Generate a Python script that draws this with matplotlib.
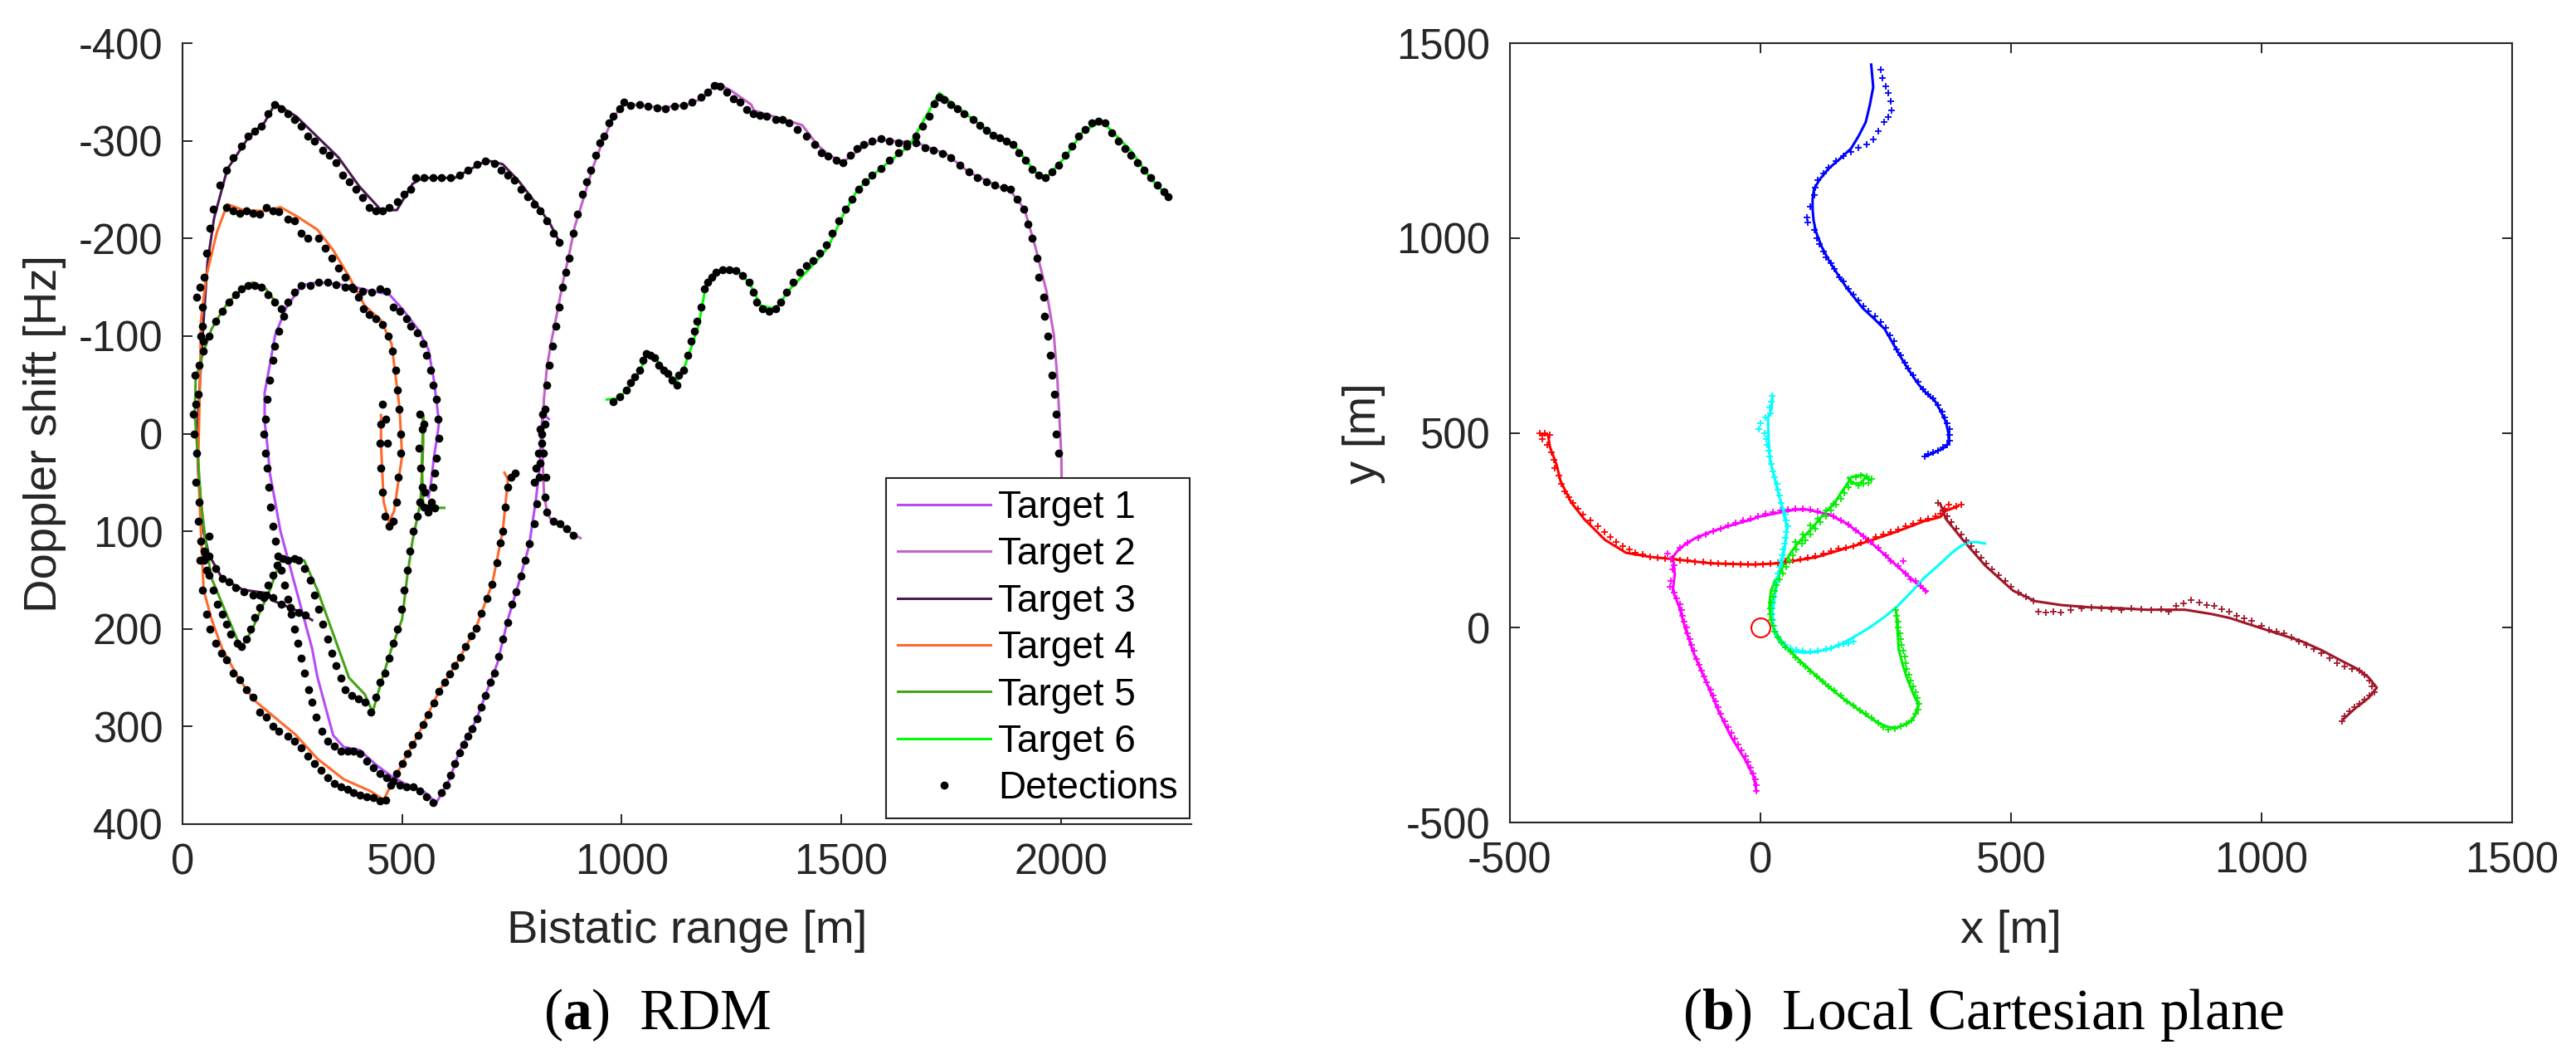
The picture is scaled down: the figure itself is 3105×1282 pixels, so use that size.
import matplotlib
matplotlib.use('Agg')
import matplotlib.pyplot as plt

plt.rcParams['font.family'] = ['Liberation Sans', 'DejaVu Sans']
plt.rcParams['axes.unicode_minus'] = False
plt.rcParams['mathtext.fontset'] = 'custom'
plt.rcParams['mathtext.rm'] = 'Liberation Serif'
plt.rcParams['mathtext.bf'] = 'Liberation Serif:bold'

# ---------------- Left panel data: (bistatic range [m], Doppler [Hz]) ----------------
target_names = ['Target 1', 'Target 2', 'Target 3', 'Target 4', 'Target 5', 'Target 6']
target_colors = ['#b54cf5', '#c262c8', '#4a1a4e', '#ff6a2a', '#45a315', '#00ff00']

t1 = [(560, 65), (566, 50), (572, 26), (582, -4), (584, -12), (572, -56), (560, -86), (536, -107),
      (500, -128), (470, -143), (427, -146), (403, -149), (355, -153), (307, -155), (271, -152),
      (235, -128), (211, -101), (199, -71), (187, -42), (187, -12), (193, 11), (199, 41), (211, 70),
      (223, 100), (241, 130), (259, 160), (277, 190), (295, 220), (307, 249), (325, 279), (343, 309),
      (367, 321), (403, 324), (440, 339), (476, 351), (512, 360), (548, 366), (578, 378), (608, 354),
      (632, 324), (668, 294), (693, 264), (717, 235), (741, 190), (765, 154), (789, 115), (804, 70),
      (813, 35), (817, -4), (820, -20), (834, -15)]
t2 = [(906, 107), (886, 102), (860, 94), (840, 89), (830, 81), (823, 61), (820, 29), (820, -4),
      (823, -36), (830, -69), (840, -95), (853, -124), (867, -157), (880, -183), (893, -212),
      (909, -235), (933, -271), (958, -301), (982, -325), (1006, -338), (1030, -337), (1090, -334),
      (1150, -337), (1186, -344), (1216, -359), (1247, -352), (1295, -337), (1301, -331),
      (1368, -322), (1411, -316), (1445, -296), (1470, -286), (1503, -278), (1554, -295),
      (1588, -301), (1672, -298), (1740, -286), (1790, -268), (1858, -253), (1883, -250),
      (1917, -230), (1942, -191), (1967, -146), (1984, -101), (1992, -56), (2001, 23), (2002, 60)]
t3 = [(295, 191), (259, 181), (211, 172), (187, 163), (138, 160), (90, 148), (60, 124), (48, 100),
      (36, 41), (33, 3), (40, -56), (48, -116), (57, -176), (72, -221), (102, -271), (151, -304),
      (187, -319), (211, -338), (259, -325), (307, -304), (355, -283), (403, -253), (452, -229),
      (488, -229), (524, -256), (548, -262), (620, -262), (656, -271), (693, -280), (729, -276),
      (765, -259), (801, -238), (837, -215), (861, -194)]
t4 = [(452, -19), (452, 11), (458, 70), (470, 91), (482, 79), (494, 41), (500, 23), (494, -27),
      (476, -92), (452, -116), (415, -131), (379, -161), (343, -188), (307, -209), (259, -223),
      (223, -232), (187, -228), (139, -229), (102, -235), (78, -206), (54, -161), (42, -116),
      (40, -56), (36, 23), (36, 41), (42, 100), (48, 160), (66, 190), (90, 220), (127, 250),
      (163, 273), (211, 291), (259, 309), (307, 333), (367, 354), (427, 366), (458, 375),
      (488, 348), (536, 309), (584, 264), (632, 229), (668, 199), (705, 154), (729, 100),
      (741, 47), (733, 40)]
t5 = [(215, -133), (190, -148), (160, -155), (140, -150), (103, -134), (80, -118), (66, -107),
      (45, -80), (30, -56), (28, -19), (36, 30), (42, 70), (54, 115), (66, 148), (102, 187),
      (133, 220), (157, 202), (175, 184), (199, 160), (223, 130), (259, 127), (277, 130),
      (307, 160), (331, 190), (355, 220), (379, 250), (415, 267), (433, 285), (452, 255),
      (476, 220), (500, 190), (512, 145), (524, 109), (542, 70), (548, 11), (548, -19),
      (545, 30), (548, 76), (596, 76)]
t6 = [(966, -35), (993, -36), (1019, -49), (1039, -62), (1059, -82), (1079, -76), (1105, -62),
      (1125, -54), (1138, -62), (1158, -88), (1175, -111), (1191, -150), (1211, -163),
      (1238, -168), (1264, -167), (1291, -154), (1317, -131), (1350, -128), (1385, -149),
      (1436, -173), (1470, -191), (1503, -223), (1537, -250), (1588, -271), (1655, -295),
      (1723, -349), (1773, -331), (1841, -308), (1891, -297), (1942, -268), (1967, -262),
      (2009, -283), (2051, -310), (2094, -320), (2161, -289), (2203, -262), (2242, -244)]
targets_rdm = [t1, t2, t3, t4, t5, t6]

detections_rdm = [
    # target 3 upper arc
    (35, -40), (38, -70), (42, -100), (45, -130), (50, -160), (55, -185), (62, -210), (70, -230),
    (85, -255), (100, -270), (115, -283), (135, -295), (150, -305), (165, -310), (180, -315),
    (195, -328), (210, -337), (225, -333), (240, -328), (255, -322), (270, -315), (285, -305),
    (300, -300), (320, -290), (335, -285), (350, -278), (365, -265), (380, -258), (395, -250),
    (410, -242), (425, -232), (440, -228), (455, -228), (470, -232), (490, -238), (505, -245),
    (520, -250), (530, -262), (550, -262), (570, -262), (590, -262), (610, -262), (630, -265),
    (650, -270), (670, -276), (690, -279), (710, -277), (725, -270), (740, -265), (755, -260),
    (770, -250), (785, -243), (800, -235), (815, -228), (830, -218), (845, -205), (858, -196),
    # target 3 lower
    (60, 125), (75, 138), (90, 148), (105, 152), (120, 158), (140, 162), (160, 165), (175, 165),
    (190, 165), (205, 168), (225, 175), (245, 178), (265, 183), (280, 186),
    # left edge
    (28, -60), (30, -30), (27, 0), (32, 20), (30, 50), (38, 70), (35, 90), (42, 110), (50, 120),
    (55, 140), (25, -20), (40, -150), (33, -140), (45, -110), (48, -95), (52, 125), (60, 105),
    # target 4
    (100, -232), (115, -228), (130, -226), (145, -228), (160, -226), (175, -225), (190, -232),
    (205, -228), (220, -227), (240, -220), (255, -218), (270, -205), (285, -200), (310, -200),
    (325, -190), (340, -180), (355, -170), (370, -160), (385, -150), (400, -140), (412, -128),
    (425, -122), (440, -118), (455, -112), (468, -100), (478, -85), (485, -65), (490, -45),
    (493, -25), (496, 0), (496, 20), (492, 45), (487, 70), (480, 90), (470, 95), (460, 85),
    (455, 60), (452, 35), (450, 10), (452, -10), (455, -30), (462, -15), (466, 10),
    (40, 130), (45, 160), (55, 185), (62, 200), (75, 215), (88, 225), (100, 232), (115, 245),
    (130, 252), (145, 262), (160, 270), (175, 285), (190, 290), (205, 300), (220, 305),
    (240, 310), (255, 315), (270, 322), (285, 330), (300, 338), (315, 345), (330, 352),
    (345, 358), (360, 362), (375, 364), (390, 368), (405, 370), (420, 372), (435, 373),
    (450, 376), (462, 375), (475, 360), (488, 348), (500, 338), (512, 328), (524, 318),
    (536, 309), (548, 298), (560, 288), (572, 276), (584, 264), (596, 255), (608, 246),
    (620, 238), (632, 229), (645, 218), (658, 207), (668, 199), (680, 184), (693, 169),
    (705, 154), (715, 132), (723, 112), (729, 100), (735, 75), (741, 55), (748, 45), (758, 40),
    # target 1
    (240, -135), (255, -145), (270, -152), (290, -152), (310, -155), (330, -155), (350, -153),
    (370, -150), (390, -148), (410, -146), (430, -145), (450, -148), (465, -146), (480, -130),
    (495, -125), (510, -118), (520, -110), (535, -103), (548, -92), (555, -80), (565, -65),
    (570, -50), (578, -35), (582, -15), (583, 5), (578, 25), (575, 40), (570, 55), (567, 70),
    (560, 80), (550, 75),
    (230, -120), (220, -105), (210, -90), (205, -75), (198, -55), (192, -35), (188, -15),
    (185, 0), (188, 20), (192, 35), (196, 55), (200, 75), (205, 95), (212, 110), (218, 125),
    (225, 140), (232, 155), (240, 170), (248, 185), (255, 200), (262, 215), (270, 230),
    (278, 245), (287, 262), (295, 275), (305, 290), (318, 305), (330, 315), (345, 320),
    (360, 325), (375, 325), (390, 325), (405, 328), (420, 335), (435, 342), (450, 348),
    (465, 352), (480, 356), (495, 360), (510, 362), (525, 362), (540, 366), (555, 372),
    (570, 378), (590, 368), (600, 360), (610, 350), (620, 338), (630, 327), (640, 318),
    (650, 310), (660, 302), (670, 292), (680, 280), (690, 268), (700, 255), (710, 245),
    (720, 228), (730, 210), (740, 193), (750, 175), (760, 162), (770, 146), (780, 130),
    (790, 113), (800, 92), (806, 72), (812, 45), (815, 30), (818, 10), (815, -5), (820, -20),
    (825, -10), (810, 20), (805, 35), (800, 50),
    # target 2
    (830, 80), (845, 90), (860, 92), (875, 97), (890, 104), (825, 65), (828, 45), (822, 20),
    (818, 0), (825, -25), (830, -50), (835, -70), (842, -90), (850, -110), (858, -130),
    (865, -150), (872, -165), (880, -180), (890, -205), (900, -225), (910, -245), (920, -258),
    (930, -270), (940, -285), (950, -298), (960, -305), (970, -318), (980, -325), (995, -333),
    (1005, -340), (1020, -336), (1040, -337), (1060, -335), (1080, -334), (1100, -333),
    (1120, -335), (1140, -336), (1160, -340), (1180, -345), (1195, -350), (1210, -357),
    (1225, -356), (1240, -350), (1255, -343), (1270, -340), (1285, -332), (1300, -328),
    (1315, -326), (1330, -325), (1350, -322), (1365, -322), (1380, -318), (1400, -312),
    (1420, -305), (1440, -296), (1455, -288), (1470, -284), (1488, -280), (1503, -278),
    (1520, -285), (1535, -292), (1550, -296), (1570, -300), (1590, -302), (1610, -300),
    (1630, -298), (1650, -297), (1670, -298), (1690, -293), (1710, -290), (1730, -287),
    (1750, -283), (1770, -275), (1790, -268), (1810, -262), (1830, -258), (1850, -255),
    (1870, -252), (1885, -250), (1900, -240), (1915, -230), (1925, -215), (1935, -200),
    (1945, -180), (1950, -160), (1960, -140), (1963, -120), (1970, -100), (1975, -80),
    (1980, -60), (1985, -40), (1990, -20), (1990, 0), (1995, 20),
    # target 5
    (75, -115), (90, -125), (105, -135), (120, -142), (135, -148), (150, -152), (165, -152),
    (180, -150), (195, -142), (210, -135), (225, -128), (60, -100), (48, -85),
    (50, 130), (60, 145), (70, 160), (80, 175), (90, 185), (100, 195), (110, 205), (125, 215),
    (135, 218), (145, 210), (155, 200), (165, 188), (175, 178), (185, 168), (195, 155),
    (205, 145), (215, 135), (228, 128), (240, 130), (255, 128), (265, 130), (278, 138),
    (290, 150), (300, 165), (310, 180), (320, 195), (330, 210), (340, 225), (350, 238),
    (360, 250), (370, 262), (385, 268), (400, 272), (415, 275), (428, 285), (440, 270),
    (450, 255), (460, 245), (470, 230), (480, 215), (490, 200), (498, 180), (505, 160),
    (512, 140), (518, 120), (525, 100), (535, 85), (540, 70), (545, 55), (542, 35), (538, 15),
    (545, -5), (540, -20), (550, -10), (552, 60), (560, 76), (575, 76),
    # target 6
    (980, -33), (995, -38), (1010, -45), (1020, -52), (1030, -58), (1040, -65), (1048, -75),
    (1055, -82), (1065, -80), (1075, -78), (1085, -70), (1095, -65), (1105, -62), (1115, -55),
    (1125, -50), (1130, -60), (1140, -65), (1150, -80), (1158, -95), (1165, -105), (1172, -115),
    (1180, -130), (1188, -148), (1195, -155), (1205, -160), (1215, -165), (1230, -168),
    (1245, -168), (1260, -167), (1275, -162), (1290, -155), (1300, -145), (1308, -135),
    (1320, -128), (1335, -125), (1350, -128), (1362, -135), (1375, -145), (1390, -155),
    (1405, -165), (1420, -172), (1435, -177), (1450, -185), (1465, -193), (1480, -205),
    (1495, -218), (1510, -230), (1525, -240), (1540, -250), (1555, -258), (1570, -265),
    (1590, -272), (1610, -280), (1630, -288), (1650, -295), (1670, -305), (1685, -315),
    (1700, -325), (1712, -338), (1722, -345), (1735, -342), (1750, -337), (1765, -333),
    (1780, -328), (1800, -322), (1815, -316), (1830, -311), (1845, -306), (1860, -303),
    (1875, -300), (1890, -296), (1905, -288), (1920, -280), (1935, -271), (1950, -265),
    (1965, -262), (1980, -268), (1995, -275), (2010, -285), (2025, -295), (2040, -305),
    (2055, -312), (2070, -318), (2085, -320), (2100, -318), (2115, -308), (2130, -300),
    (2145, -292), (2160, -285), (2175, -278), (2190, -270), (2205, -262), (2220, -255),
    (2235, -248), (2245, -243)]

rdm_xticks = [0, 500, 1000, 1500, 2000]
rdm_yticks = [-400, -300, -200, -100, 0, 100, 200, 300, 400]

# ---------------- Right panel data: (x [m], y [m]) ----------------
track_colors = ['#0000ff', '#ff0000', '#a0182a', '#ff00ff', '#00ffff', '#00f000']

blue_line = [(221, 1445), (225, 1387), (218, 1340), (210, 1297), (196, 1262), (181, 1230),
             (160, 1205), (136, 1178), (118, 1150), (107, 1126), (104, 1100), (104, 1074),
             (106, 1045), (111, 1015), (122, 978), (138, 939), (155, 905), (171, 874), (188, 846),
             (204, 820), (225, 795), (248, 766), (265, 728), (282, 690), (298, 657), (315, 625),
             (330, 603), (348, 582), (360, 555), (370, 528), (375, 500), (376, 474), (368, 463),
             (359, 457), (345, 448), (332, 441)]
blue_det = [(240, 1431), (243, 1410), (250, 1390), (255, 1372), (260, 1350), (262, 1327),
            (255, 1310), (247, 1297), (235, 1275), (225, 1253), (212, 1240), (195, 1232),
            (180, 1222), (165, 1210), (150, 1198), (135, 1180), (125, 1165), (115, 1148),
            (110, 1130), (108, 1110), (100, 1080), (92, 1052), (95, 1040), (108, 1020),
            (112, 1000), (118, 985), (125, 965), (130, 950), (140, 935), (148, 920), (158, 900),
            (165, 888), (175, 870), (185, 855), (195, 840), (205, 825), (215, 812), (228, 800),
            (240, 785), (250, 770), (258, 750), (266, 735), (272, 715), (280, 700), (288, 680),
            (295, 665), (305, 648), (315, 630), (325, 612), (335, 600), (345, 588), (355, 572),
            (362, 555), (368, 540), (372, 525), (378, 510), (378, 495), (377, 480), (372, 470),
            (365, 462), (355, 455), (345, 450), (335, 445), (328, 440)]
red_line = [(-437, 495), (-424, 495), (-420, 463), (-407, 419), (-399, 376), (-378, 322),
            (-352, 279), (-310, 225), (-268, 192), (-217, 181), (-175, 176), (-99, 165),
            (-14, 162), (36, 165), (112, 181), (197, 214), (271, 246), (326, 273), (359, 284),
            (370, 300), (393, 311)]
red_det = [(-440, 500), (-430, 498), (-420, 495), (-435, 485), (-425, 470), (-418, 450),
           (-412, 430), (-410, 410), (-402, 390), (-398, 370), (-390, 350), (-382, 335),
           (-375, 320), (-365, 305), (-355, 290), (-340, 275), (-325, 260), (-312, 245),
           (-300, 232), (-288, 220), (-275, 210), (-262, 200), (-250, 192), (-235, 187),
           (-220, 182), (-205, 180), (-190, 178), (-175, 178), (-160, 172), (-145, 172),
           (-130, 168), (-115, 168), (-100, 166), (-85, 165), (-70, 164), (-55, 163), (-40, 163),
           (-25, 162), (-10, 162), (5, 163), (20, 164), (35, 167), (50, 170), (65, 172), (80, 176),
           (95, 180), (110, 184), (125, 190), (140, 196), (155, 202), (170, 205), (185, 210),
           (200, 218), (215, 225), (230, 232), (245, 240), (260, 246), (275, 252), (290, 260),
           (305, 266), (320, 275), (335, 280), (350, 285), (360, 292), (368, 305), (375, 315),
           (390, 312), (400, 315)]
darkred_line = [(359, 317), (370, 279), (404, 225), (448, 160), (504, 95), (548, 68), (600, 58),
                (659, 52), (715, 50), (770, 46), (847, 46), (900, 35), (936, 25), (1003, -3),
                (1080, -35), (1120, -58), (1158, -84), (1190, -105), (1213, -127), (1230, -154),
                (1213, -181), (1186, -208), (1163, -235)]
darkred_det = [(355, 320), (365, 300), (372, 285), (380, 270), (390, 255), (400, 240), (410, 225),
               (420, 210), (430, 195), (440, 180), (450, 165), (462, 150), (475, 135), (488, 120),
               (500, 105), (515, 90), (530, 80), (545, 68), (555, 42), (570, 38), (585, 40),
               (600, 38), (620, 45), (640, 50), (660, 52), (680, 50), (700, 48), (720, 46),
               (740, 50), (760, 48), (780, 45), (800, 48), (815, 40), (830, 55), (845, 62),
               (860, 70), (875, 65), (890, 58), (905, 55), (920, 48), (935, 42), (950, 30),
               (965, 25), (980, 18), (1000, 5), (1015, -5), (1030, -10), (1045, -15), (1060, -25),
               (1075, -35), (1090, -45), (1105, -55), (1120, -65), (1135, -78), (1150, -92),
               (1165, -100), (1180, -105), (1195, -110), (1205, -120), (1215, -135), (1220, -150),
               (1225, -165), (1215, -175), (1205, -185), (1195, -195), (1185, -205), (1175, -215),
               (1165, -228), (1160, -240)]
magenta_line = [(332, 93), (304, 122), (271, 160), (240, 196), (215, 225), (190, 250), (171, 268),
                (138, 290), (93, 303), (70, 303), (49, 298), (-6, 284), (-14, 279), (-60, 262),
                (-99, 246), (-130, 230), (-150, 214), (-165, 198), (-175, 181), (-171, 138),
                (-175, 95), (-162, 52), (-150, -2), (-133, -67), (-107, -143), (-82, -219),
                (-57, -284), (-31, -338), (-14, -381), (-8, -419)]
magenta_det = [(-185, 190), (-178, 175), (-172, 160), (-175, 150), (-178, 120), (-180, 105),
               (-172, 90), (-168, 75), (-160, 60), (-158, 45), (-155, 30), (-152, 15), (-148, 0),
               (-145, -15), (-140, -30), (-137, -45), (-133, -60), (-128, -80), (-122, -95),
               (-117, -110), (-112, -125), (-107, -140), (-100, -160), (-95, -175), (-90, -190),
               (-85, -205), (-80, -220), (-72, -240), (-65, -255), (-58, -270), (-52, -285),
               (-45, -300), (-38, -315), (-30, -330), (-25, -345), (-20, -360), (-15, -375),
               (-10, -390), (-8, -405), (-8, -420), (-160, 205), (-145, 218), (-125, 230),
               (-110, 240), (-95, 248), (-80, 255), (-65, 262), (-50, 268), (-35, 275), (-20, 280),
               (-5, 285), (10, 292), (25, 296), (40, 300), (55, 302), (70, 305), (85, 305),
               (100, 303), (115, 298), (130, 292), (145, 285), (160, 275), (175, 265), (190, 250),
               (205, 235), (220, 220), (235, 205), (250, 185), (260, 170), (275, 158), (290, 140),
               (310, 120), (320, 108), (330, 95), (300, 125), (285, 170)]
cyan_line = [(24, 593), (22, 560), (15, 539), (16, 490), (19, 430), (28, 385), (36, 344), (45, 300),
             (53, 257), (50, 220), (45, 181), (38, 140), (32, 106), (27, 70), (24, 41), (25, 10),
             (28, -13), (35, -30), (45, -46), (57, -56), (70, -62), (90, -64), (112, -62),
             (135, -55), (155, -46), (185, -25), (215, -2), (245, 25), (271, 52), (300, 90),
             (326, 127), (355, 160), (382, 192), (400, 210), (415, 219), (430, 220), (448, 216)]
cyan_det = [(24, 595), (22, 580), (18, 565), (20, 550), (10, 540), (0, 525), (-3, 510), (8, 500),
            (12, 485), (14, 470), (16, 455), (18, 440), (22, 420), (25, 400), (28, 385), (33, 370),
            (35, 355), (38, 340), (42, 320), (45, 305), (50, 290), (52, 275), (55, 260), (52, 245),
            (50, 230), (48, 215), (45, 200), (43, 185), (40, 170), (38, 155), (35, 140), (33, 125),
            (30, 110), (28, 95), (26, 80), (25, 65), (24, 50), (23, 35), (25, 20), (27, 5),
            (30, -10), (35, -22), (42, -35), (50, -45), (60, -52), (72, -57), (85, -60),
            (100, -62), (115, -60), (130, -55), (140, -52), (155, -45), (165, -42), (175, -40),
            (185, -35)]
green_line = [(271, 41), (276, -57), (285, -100), (293, -132), (305, -170), (315, -197), (310, -220),
              (304, -235), (290, -248), (271, -257), (255, -255), (237, -246), (215, -228),
              (193, -208), (165, -182), (138, -154), (110, -122), (82, -89), (65, -68), (49, -46),
              (36, -25), (27, -3), (20, 25), (18, 52), (19, 75), (21, 95), (28, 118), (38, 138),
              (48, 165), (60, 192), (80, 225), (104, 257), (125, 290), (149, 322), (160, 345),
              (171, 365), (182, 387), (204, 392), (221, 378), (210, 385), (199, 371), (182, 370),
              (175, 385)]
green_det = [(270, 45), (272, 30), (275, 15), (275, 0), (278, -15), (280, -30), (282, -45),
             (285, -60), (288, -75), (290, -90), (292, -105), (296, -120), (300, -135), (305, -150),
             (310, -165), (313, -180), (316, -195), (314, -210), (310, -222), (302, -238),
             (292, -246), (280, -252), (268, -260), (255, -262), (245, -255), (235, -245),
             (222, -232), (210, -222), (198, -212), (185, -200), (172, -188), (160, -175),
             (148, -162), (136, -150), (124, -138), (112, -125), (100, -112), (90, -100), (80, -88),
             (70, -76), (60, -62), (50, -50), (42, -38), (35, -25), (28, -10), (25, 5), (22, 20),
             (20, 35), (20, 50), (22, 65), (25, 80), (28, 95), (32, 110), (38, 125), (45, 140),
             (52, 155), (58, 170), (65, 185), (72, 200), (82, 215), (90, 225), (100, 240),
             (110, 255), (120, 270), (130, 285), (140, 300), (150, 315), (160, 330), (168, 345),
             (175, 360), (180, 375), (190, 385), (200, 390), (212, 388), (222, 382), (215, 372),
             (205, 368), (195, 365), (70, 220), (85, 240), (100, 262), (115, 280), (130, 300),
             (145, 318)]
tracks_xy = [blue_line, red_line, darkred_line, magenta_line, cyan_line, green_line]
dets_xy = [blue_det, red_det, darkred_det, magenta_det, cyan_det, green_det]
receiver = (0, 0)

xy_xticks = [-500, 0, 500, 1000, 1500]
xy_yticks = [-500, 0, 500, 1000, 1500]

# ---------------- Figure ----------------
W, H = 3105, 1282
fig = plt.figure(figsize=(W / 100, H / 100), dpi=100)
ax1 = fig.add_axes([220 / W, 1 - 993 / H, (1436 - 220) / W, (993 - 52) / H])
ax2 = fig.add_axes([1820 / W, 1 - 991 / H, (3028 - 1820) / W, (991 - 52) / H])

dark = '#262626'
tick_fs = 36.5
label_fs = 40.5

def unzip(pts):
    return [p[0] for p in pts], [p[1] for p in pts]

# left panel
handles = []
for pts, col, name in zip(targets_rdm, target_colors, target_names):
    xs, ys = unzip(pts)
    h, = ax1.plot(xs, ys, '-', color=col, lw=2.2, label=name, zorder=2)
    handles.append(h)
dx, dy = unzip(detections_rdm)
hd, = ax1.plot(dx, dy, 'o', color='black', ms=7, mew=0, ls='none', label='Detections', zorder=3)
handles.append(hd)

ax1.set_xlim(0, 2297)
ax1.set_ylim(400, -400)
ax1.set_xticks(rdm_xticks)
ax1.set_yticks(rdm_yticks)
for s in ['top', 'right']:
    ax1.spines[s].set_visible(False)

leg = ax1.legend(handles=handles, loc='lower right', bbox_to_anchor=(0.998, 0.0074),
                 borderaxespad=0, fontsize=33, handlelength=2.45, handletextpad=0.2,
                 labelspacing=0.27, borderpad=0.3, fancybox=False, framealpha=1,
                 edgecolor=dark)
leg.get_frame().set_linewidth(1.5)

# right panel
for line, det, col in zip(tracks_xy, dets_xy, track_colors):
    xs, ys = unzip(line)
    ax2.plot(xs, ys, '-', color=col, lw=2.2, zorder=2)
    xs, ys = unzip(det)
    ax2.plot(xs, ys, '+', color=col, ms=5.5, mew=1.3, ls='none', zorder=3)
ax2.plot([receiver[0]], [receiver[1]], 'o', mfc='none', mec='#ff0000', ms=16.5, mew=1.5, zorder=4)
ax2.set_xlim(-500, 1500)
ax2.set_ylim(-500, 1500)
ax2.set_xticks(xy_xticks)
ax2.set_yticks(xy_yticks)
ax2.tick_params(top=True, right=True)

for ax in (ax1, ax2):
    for s in ax.spines.values():
        s.set_linewidth(1.5)
        s.set_color(dark)
    ax.tick_params(direction='in', length=8.6, width=1.4, colors=dark, labelsize=tick_fs)
    ax.tick_params(axis='x', pad=16)
    ax.tick_params(axis='y', pad=17)

# axis labels
fig.text(828 / W, 1 - 1122 / H, 'Bistatic range [m]', ha='center', va='center',
         fontsize=label_fs, color=dark)
fig.text(54 / W, 1 - 522 / H, 'Doppler shift [Hz]', ha='center', va='center',
         rotation=90, fontsize=label_fs, color=dark)
fig.text(2424 / W, 1 - 1122 / H, 'x [m]', ha='center', va='center', fontsize=label_fs, color=dark)
fig.text(1644 / W, 1 - 522 / H, 'y [m]', ha='center', va='center', rotation=90,
         fontsize=label_fs, color=dark)

# captions
fig.text(792 / W, 1 - 1223 / H, r'($\mathbf{a}$)  RDM', ha='center', va='center',
         fontsize=50, family='Liberation Serif', color='black')
fig.text(2391 / W, 1 - 1223 / H, r'($\mathbf{b}$)  Local Cartesian plane', ha='center',
         va='center', fontsize=50, family='Liberation Serif', color='black')

fig.savefig('out.png', dpi=100)
